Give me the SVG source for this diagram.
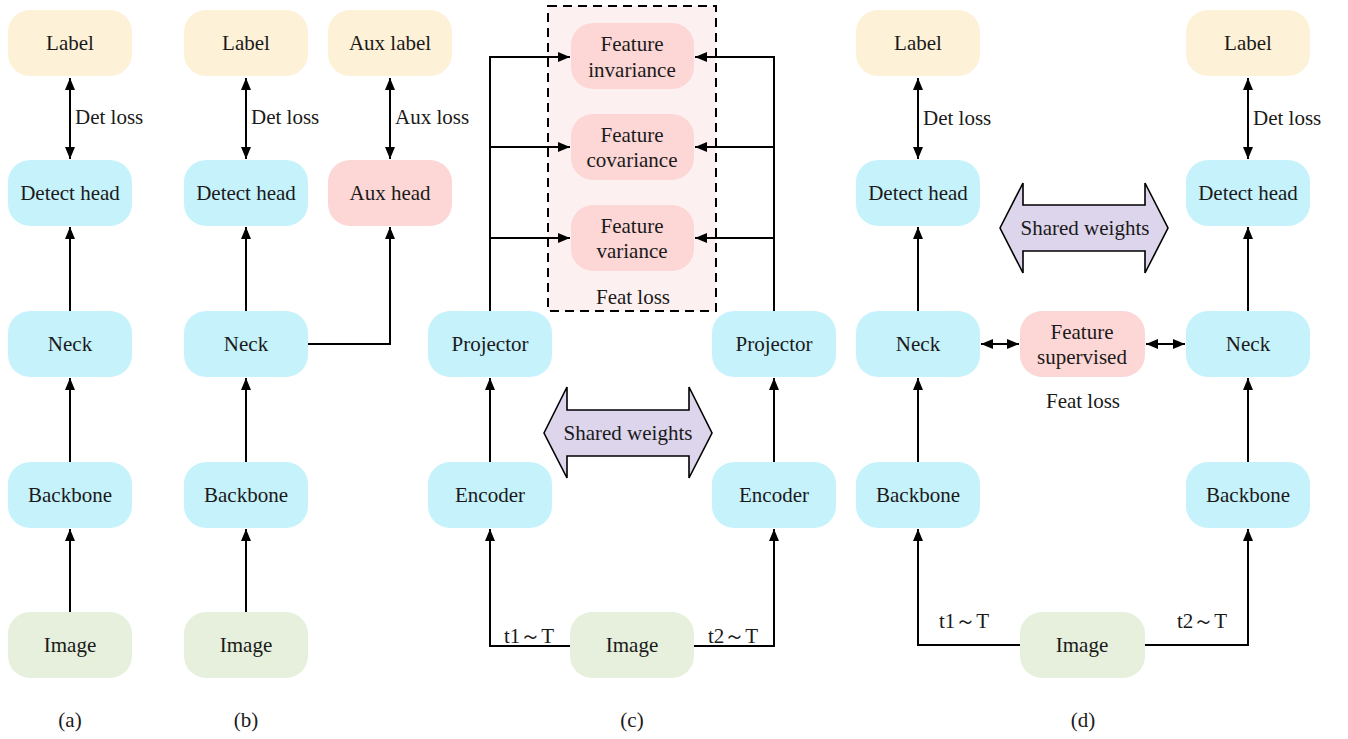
<svg xmlns="http://www.w3.org/2000/svg" width="1348" height="739" viewBox="0 0 1348 739">
<defs>
<style>
text{font-family:"Liberation Serif","DejaVu Serif","Noto Serif",serif;font-size:21px;fill:#1a1a1a;dominant-baseline:central}
.t{text-anchor:middle}
.lab{fill:#fdf1d7}
.cy{fill:#c6f2fc}
.pk{fill:#fdd6d6}
.img{fill:#e6f0dd}
.c{fill:none;stroke:#000;stroke-width:2}
.sw{fill:#ddd5ec;stroke:#000;stroke-width:1.6}
</style>
<marker id="ah" viewBox="0 0 12 10" refX="12" refY="5" markerWidth="12" markerHeight="10" markerUnits="userSpaceOnUse" orient="auto-start-reverse">
<path d="M0,0 L12,5 L0,10 z" fill="#000"/>
</marker>
</defs>
<rect width="1348" height="739" fill="#fff"/>

<g id="featbox">
<rect x="548" y="6" width="168" height="305" fill="#fdf0f0" stroke="#000" stroke-width="2" stroke-dasharray="9,6"/>
<text class="t" x="633" y="297">Feat loss</text>
</g>

<g id="a_label"><rect class="lab" x="8" y="10" width="124" height="66" rx="22"/><text class="t" x="70" y="43">Label</text></g>
<g id="a_head"><rect class="cy" x="8" y="160" width="124" height="66" rx="22"/><text class="t" x="70" y="193">Detect head</text></g>
<g id="a_neck"><rect class="cy" x="8" y="311" width="124" height="66" rx="22"/><text class="t" x="70" y="344">Neck</text></g>
<g id="a_backbone"><rect class="cy" x="8" y="462" width="124" height="66" rx="22"/><text class="t" x="70" y="495">Backbone</text></g>
<g id="a_image"><rect class="img" x="8" y="612" width="124" height="66" rx="22"/><text class="t" x="70" y="645">Image</text></g>

<g id="b_label"><rect class="lab" x="184" y="10" width="124" height="66" rx="22"/><text class="t" x="246" y="43">Label</text></g>
<g id="b_auxlabel"><rect class="lab" x="328" y="10" width="124" height="66" rx="22"/><text class="t" x="390" y="43">Aux label</text></g>
<g id="b_head"><rect class="cy" x="184" y="160" width="124" height="66" rx="22"/><text class="t" x="246" y="193">Detect head</text></g>
<g id="b_auxhead"><rect class="pk" x="328" y="160" width="124" height="66" rx="22"/><text class="t" x="390" y="193">Aux head</text></g>
<g id="b_neck"><rect class="cy" x="184" y="311" width="124" height="66" rx="22"/><text class="t" x="246" y="344">Neck</text></g>
<g id="b_backbone"><rect class="cy" x="184" y="462" width="124" height="66" rx="22"/><text class="t" x="246" y="495">Backbone</text></g>
<g id="b_image"><rect class="img" x="184" y="612" width="124" height="66" rx="22"/><text class="t" x="246" y="645">Image</text></g>

<g id="c_inv"><rect class="pk" x="571" y="23" width="123" height="66" rx="22"/><text class="t" x="632" y="44">Feature</text><text class="t" x="632" y="70">invariance</text></g>
<g id="c_cov"><rect class="pk" x="571" y="114" width="123" height="66" rx="22"/><text class="t" x="632" y="135">Feature</text><text class="t" x="632" y="160">covariance</text></g>
<g id="c_var"><rect class="pk" x="571" y="205" width="123" height="66" rx="22"/><text class="t" x="632" y="226">Feature</text><text class="t" x="632" y="251">variance</text></g>
<g id="c_projL"><rect class="cy" x="428" y="311" width="124" height="66" rx="22"/><text class="t" x="490" y="344">Projector</text></g>
<g id="c_projR"><rect class="cy" x="712" y="311" width="124" height="66" rx="22"/><text class="t" x="774" y="344">Projector</text></g>
<g id="c_encL"><rect class="cy" x="428" y="462" width="124" height="66" rx="22"/><text class="t" x="490" y="495">Encoder</text></g>
<g id="c_encR"><rect class="cy" x="712" y="462" width="124" height="66" rx="22"/><text class="t" x="774" y="495">Encoder</text></g>
<g id="c_image"><rect class="img" x="570" y="612" width="124" height="66" rx="22"/><text class="t" x="632" y="645">Image</text></g>
<g id="c_shared"><polygon class="sw" points="544,433 567,387 567,410 689,410 689,387 712,433 689,478 689,456 567,456 567,478"/><text class="t" x="628" y="433">Shared weights</text></g>

<g id="d_labelL"><rect class="lab" x="856" y="10" width="124" height="66" rx="22"/><text class="t" x="918" y="43">Label</text></g>
<g id="d_labelR"><rect class="lab" x="1186" y="10" width="124" height="66" rx="22"/><text class="t" x="1248" y="43">Label</text></g>
<g id="d_headL"><rect class="cy" x="856" y="160" width="124" height="66" rx="22"/><text class="t" x="918" y="193">Detect head</text></g>
<g id="d_headR"><rect class="cy" x="1186" y="160" width="124" height="66" rx="22"/><text class="t" x="1248" y="193">Detect head</text></g>
<g id="d_shared"><polygon class="sw" points="1000,228 1023,183 1023,205 1145,205 1145,183 1168,228 1145,273 1145,251 1023,251 1023,273"/><text class="t" x="1085" y="228">Shared weights</text></g>
<g id="d_neckL"><rect class="cy" x="856" y="311" width="124" height="66" rx="22"/><text class="t" x="918" y="344">Neck</text></g>
<g id="d_neckR"><rect class="cy" x="1186" y="311" width="124" height="66" rx="22"/><text class="t" x="1248" y="344">Neck</text></g>
<g id="d_fs"><rect class="pk" x="1020" y="311" width="125" height="66" rx="22"/><text class="t" x="1082" y="332">Feature</text><text class="t" x="1082" y="357">supervised</text></g>
<text class="t" x="1083" y="401">Feat loss</text>
<g id="d_backL"><rect class="cy" x="856" y="462" width="124" height="66" rx="22"/><text class="t" x="918" y="495">Backbone</text></g>
<g id="d_backR"><rect class="cy" x="1186" y="462" width="124" height="66" rx="22"/><text class="t" x="1248" y="495">Backbone</text></g>
<g id="d_image"><rect class="img" x="1020" y="612" width="125" height="66" rx="22"/><text class="t" x="1082" y="645">Image</text></g>

<g id="connectors">
<line class="c" x1="70" y1="78" x2="70" y2="159" marker-start="url(#ah)" marker-end="url(#ah)"/>
<line class="c" x1="70" y1="311" x2="70" y2="227" marker-end="url(#ah)"/>
<line class="c" x1="70" y1="462" x2="70" y2="378" marker-end="url(#ah)"/>
<line class="c" x1="70" y1="612" x2="70" y2="529" marker-end="url(#ah)"/>
<line class="c" x1="246" y1="78" x2="246" y2="159" marker-start="url(#ah)" marker-end="url(#ah)"/>
<line class="c" x1="390" y1="78" x2="390" y2="159" marker-start="url(#ah)" marker-end="url(#ah)"/>
<line class="c" x1="246" y1="311" x2="246" y2="227" marker-end="url(#ah)"/>
<line class="c" x1="246" y1="462" x2="246" y2="378" marker-end="url(#ah)"/>
<line class="c" x1="246" y1="612" x2="246" y2="529" marker-end="url(#ah)"/>
<polyline class="c" points="308,344 390,344 390,227" marker-end="url(#ah)"/>
<polyline class="c" points="570,646 490,646 490,529" marker-end="url(#ah)"/>
<polyline class="c" points="694,646 774,646 774,529" marker-end="url(#ah)"/>
<line class="c" x1="490" y1="462" x2="490" y2="378" marker-end="url(#ah)"/>
<line class="c" x1="774" y1="462" x2="774" y2="378" marker-end="url(#ah)"/>
<polyline class="c" points="490,311 490,57 570,57" marker-end="url(#ah)"/>
<line class="c" x1="490" y1="147" x2="570" y2="147" marker-end="url(#ah)"/>
<line class="c" x1="490" y1="238" x2="570" y2="238" marker-end="url(#ah)"/>
<polyline class="c" points="774,311 774,57 695,57" marker-end="url(#ah)"/>
<line class="c" x1="774" y1="147" x2="695" y2="147" marker-end="url(#ah)"/>
<line class="c" x1="774" y1="238" x2="695" y2="238" marker-end="url(#ah)"/>
<line class="c" x1="918" y1="78" x2="918" y2="159" marker-start="url(#ah)" marker-end="url(#ah)"/>
<line class="c" x1="1248" y1="78" x2="1248" y2="159" marker-start="url(#ah)" marker-end="url(#ah)"/>
<line class="c" x1="918" y1="311" x2="918" y2="227" marker-end="url(#ah)"/>
<line class="c" x1="1248" y1="311" x2="1248" y2="227" marker-end="url(#ah)"/>
<line class="c" x1="918" y1="462" x2="918" y2="378" marker-end="url(#ah)"/>
<line class="c" x1="1248" y1="462" x2="1248" y2="378" marker-end="url(#ah)"/>
<line class="c" x1="981" y1="344" x2="1019" y2="344" marker-start="url(#ah)" marker-end="url(#ah)"/>
<line class="c" x1="1146" y1="344" x2="1185" y2="344" marker-start="url(#ah)" marker-end="url(#ah)"/>
<polyline class="c" points="1020,645 918,645 918,529" marker-end="url(#ah)"/>
<polyline class="c" points="1145,645 1248,645 1248,529" marker-end="url(#ah)"/>
</g>

<g id="edge-labels">
<text x="75" y="117">Det loss</text>
<text x="251" y="117">Det loss</text>
<text x="395" y="117">Aux loss</text>
<text x="923" y="118">Det loss</text>
<text x="1253" y="118">Det loss</text>
<text class="t" x="529" y="636">t1～T</text>
<text class="t" x="733" y="636">t2～T</text>
<text class="t" x="964" y="621">t1～T</text>
<text class="t" x="1202" y="621">t2～T</text>
</g>

<g id="captions">
<text class="t" x="70" y="720">(a)</text>
<text class="t" x="246" y="720">(b)</text>
<text class="t" x="632" y="720">(c)</text>
<text class="t" x="1083" y="720">(d)</text>
</g>
</svg>
